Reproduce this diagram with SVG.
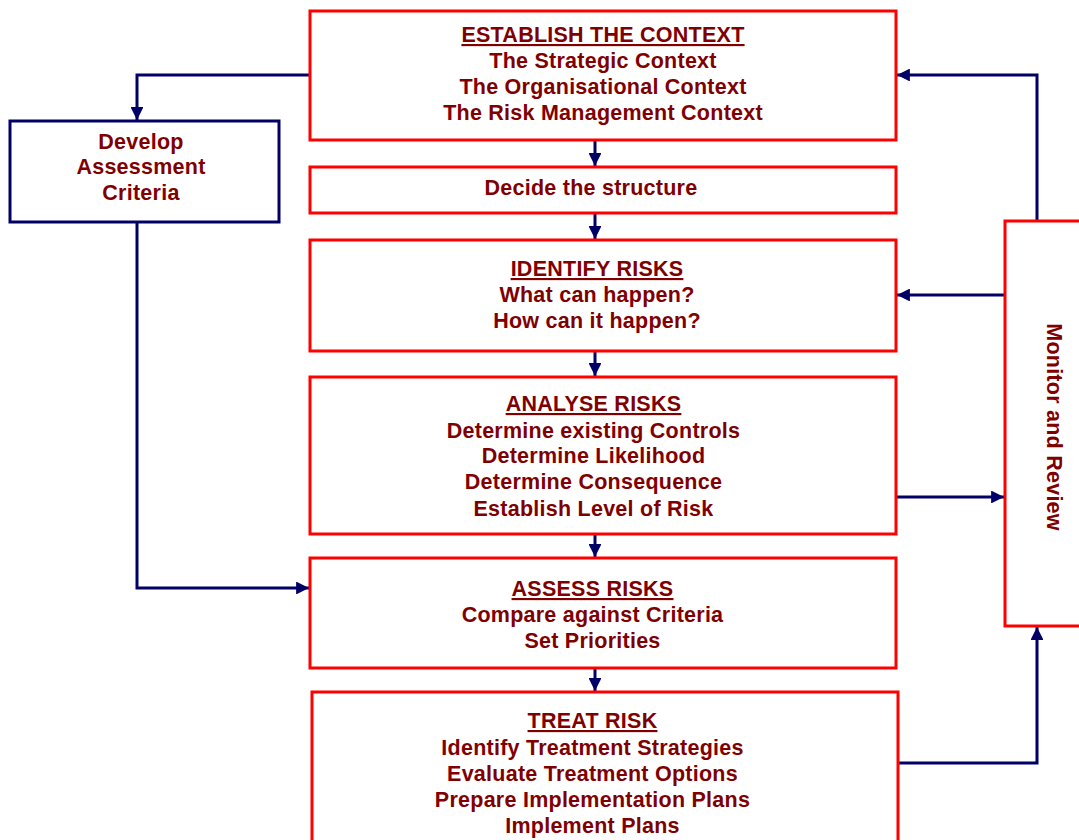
<svg xmlns="http://www.w3.org/2000/svg" width="1079" height="840" viewBox="0 0 1079 840">
  <defs>
    <marker id="arrow" viewBox="0 0 10 10" refX="10" refY="5" markerWidth="4.3" markerHeight="4.3" orient="auto" markerUnits="strokeWidth">
      <path d="M0,0 L10,5 L0,10 z" fill="#000066"/>
    </marker>
  </defs>
  <style>
    .box { fill: #ffffff; stroke: #ff0000; stroke-width: 3; }
    .nbox { fill: #ffffff; stroke: #000066; stroke-width: 3; }
    .conn { fill: none; stroke: #000066; stroke-width: 3; }
    .arr { marker-end: url(#arrow); }
    text { font-family: "Liberation Sans", Arial, sans-serif; font-weight: bold; font-size: 21.5px; letter-spacing: 0.25px; fill: #800000; text-anchor: middle; }
    .hd { text-decoration: underline; }
  </style>

  <rect width="1079" height="840" fill="#ffffff"/>

  <!-- connectors -->
  <g id="connectors">
    <line class="conn arr" x1="595" y1="140" x2="595" y2="166"/>
    <line class="conn arr" x1="595" y1="213" x2="595" y2="239"/>
    <line class="conn arr" x1="595" y1="351" x2="595" y2="376"/>
    <line class="conn arr" x1="595" y1="534" x2="595" y2="557"/>
    <line class="conn arr" x1="595" y1="668" x2="595" y2="691"/>
    <polyline class="conn arr" points="310,75 137,75 137,120"/>
    <polyline class="conn arr" points="137,222 137,588 309,588"/>
    <polyline class="conn arr" points="1037,221 1037,75 897,75"/>
    <line class="conn arr" x1="1005" y1="295" x2="897" y2="295"/>
    <line class="conn arr" x1="896" y1="497" x2="1004" y2="497"/>
    <polyline class="conn arr" points="898,763 1037,763 1037,627"/>
  </g>

  <g id="establish-context">
    <rect class="box" x="310" y="11" width="586" height="129"/>
    <text x="603" y="42" class="hd">ESTABLISH THE CONTEXT</text>
    <text x="603" y="68">The Strategic Context</text>
    <text x="603" y="94">The Organisational Context</text>
    <text x="603" y="120">The Risk Management Context</text>
  </g>

  <g id="decide-structure">
    <rect class="box" x="310" y="167" width="586" height="46"/>
    <text x="591" y="195">Decide the structure</text>
  </g>

  <g id="identify-risks">
    <rect class="box" x="310" y="240" width="586" height="111"/>
    <text x="597" y="276" class="hd">IDENTIFY RISKS</text>
    <text x="597" y="302">What can happen?</text>
    <text x="597" y="328">How can it happen?</text>
  </g>

  <g id="analyse-risks">
    <rect class="box" x="310" y="377" width="586" height="157"/>
    <text x="593.5" y="411" class="hd">ANALYSE RISKS</text>
    <text x="593.5" y="438">Determine existing Controls</text>
    <text x="593.5" y="463">Determine Likelihood</text>
    <text x="593.5" y="489">Determine Consequence</text>
    <text x="593.5" y="516">Establish Level of Risk</text>
  </g>

  <g id="assess-risks">
    <rect class="box" x="310" y="558" width="586" height="110"/>
    <text x="592.5" y="596" class="hd">ASSESS RISKS</text>
    <text x="592.5" y="622">Compare against Criteria</text>
    <text x="592.5" y="648">Set Priorities</text>
  </g>

  <g id="treat-risk">
    <rect class="box" x="312" y="692" width="586" height="160"/>
    <text x="592.5" y="728" class="hd">TREAT RISK</text>
    <text x="592.5" y="755">Identify Treatment Strategies</text>
    <text x="592.5" y="781">Evaluate Treatment Options</text>
    <text x="592.5" y="807">Prepare Implementation Plans</text>
    <text x="592.5" y="833">Implement Plans</text>
  </g>

  <g id="develop-criteria">
    <rect class="nbox" x="10" y="121" width="269" height="101"/>
    <text x="141" y="149">Develop</text>
    <text x="141" y="174">Assessment</text>
    <text x="141" y="200">Criteria</text>
  </g>

  <g id="monitor-review">
    <rect class="box" x="1005" y="221" width="90" height="405"/>
    <text transform="translate(1047,427) rotate(90)">Monitor and Review</text>
  </g>
</svg>
